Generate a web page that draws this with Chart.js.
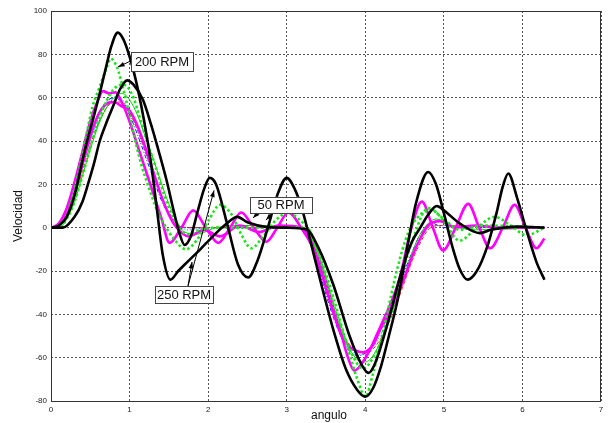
<!DOCTYPE html>
<html>
<head>
<meta charset="utf-8">
<script src="https://cdn.jsdelivr.net/npm/chart.js@4.4.1/dist/chart.umd.min.js"></script>
<style>
  body { margin: 0; background: #fff; }
  canvas { display: block; }
</style>
</head>
<body>
<canvas id="velChart" width="608" height="423"></canvas>
<script>
// tick labels
const xTicks = [0, 1, 2, 3, 4, 5, 6, 7];
const yTicks = [-80, -60, -40, -20, 0, 20, 40, 60, 80, 100];

// black, big oscillation (peak 68)
const b3X = [0, 0.15, 0.3, 0.4, 0.47, 0.55, 0.62, 0.7, 0.79, 0.88, 0.97, 1.05, 1.17, 1.27, 1.35, 1.47, 1.56, 1.63, 1.70, 1.78, 1.87, 1.95, 2.02, 2.1, 2.24, 2.38, 2.51, 2.63, 2.76, 2.88, 3.0, 3.1, 3.2, 3.3, 3.46, 3.6, 3.75, 3.9, 4.0, 4.1, 4.2, 4.3, 4.42, 4.55, 4.65, 4.8, 4.9, 5.0, 5.11, 5.2, 5.3, 5.42, 5.55, 5.67, 5.75, 5.82, 5.93, 6.05, 6.18, 6.28];
const b3Y = [0, 0, 5, 12, 20, 30, 40, 48, 56, 64, 68, 66, 59, 48, 38, 22, 8, -2, -8, -4, 8, 18, 23, 20, 2, -17, -23, -15, 0, 15, 23, 18, 8, -6, -29, -48, -65, -75, -78, -74, -64, -50, -32, -6, 12, 25.7, 20, 6.7, -9, -19, -24, -20, -9, 6.7, 19, 25, 14, -1, -16, -24];

// black, tall first peak (90)
const b1X = [0, 0.1, 0.2, 0.3, 0.4, 0.46, 0.55, 0.62, 0.7, 0.77, 0.85, 0.92, 1.0, 1.08, 1.15, 1.22, 1.28, 1.35, 1.42, 1.52, 1.62, 1.73, 1.9, 2.06, 2.24, 2.37, 2.5, 2.75, 3.0, 3.26, 3.4, 3.59, 3.8, 3.95, 4.04, 4.12, 4.27, 4.48, 4.6, 4.7, 4.8, 4.91, 5.0, 5.2, 5.46, 5.6, 5.75, 5.95, 6.28];
const b1Y = [0, 1, 5, 15, 31, 40, 52, 62, 74, 84, 90, 87, 79, 68, 56, 42, 28, 8, -12, -24, -20, -16, -10, -4, 2, 5, 2.5, 0.3, 0, -1, -9, -26, -50, -63, -67, -63, -46, -18, -6, 0, 6, 10, 8, 2, -2.5, -1, 0, 0.5, 0];

// green dotted, 200 RPM
const g1X = [0, 0.1, 0.2, 0.3, 0.4, 0.53, 0.62, 0.71, 0.76, 0.84, 0.92, 1.0, 1.08, 1.15, 1.25, 1.35, 1.45, 1.56, 1.72, 1.85, 2.0, 2.15, 2.3, 2.42, 2.55, 2.7, 2.85, 3.02, 3.15, 3.3, 3.45, 3.6, 3.75, 3.9, 4.0, 4.1, 4.27, 4.4, 4.55, 4.7, 4.85, 5.0, 5.2, 5.42, 5.65, 5.85, 6.05, 6.28];
const g1Y = [0, 1, 6, 18, 34, 56, 65, 74, 78, 74, 64, 52, 39, 29, 18, 8, 1, -5, -10, -6, 3, 10.5, 6, -3, -9.5, -4, 3, 7, 4, -2, -16, -33, -52, -70, -78, -67, -41, -20, -2, 6, 8, 3, -6, 0, 5, 1, -3.5, 0];

// green dotted, second
const g2X = [0, 0.1, 0.2, 0.3, 0.4, 0.5, 0.6, 0.7, 0.8, 0.9, 0.97, 1.05, 1.12, 1.22, 1.35, 1.45, 1.55, 1.65, 1.75, 1.9, 2.1, 3.25, 3.4, 3.6, 3.8, 3.97, 4.1, 4.25, 4.4, 4.6, 4.8, 5.0, 5.2, 5.5, 6.28];
const g2Y = [0, 0, 4, 12, 24, 37, 49, 58, 64, 66, 65, 60, 52, 40, 26, 14, 5, -1, -3, -1, 0, 0, -12, -36, -56, -65, -60, -48, -30, -6, 9, 4, -1, 1, 0];

// magenta, ringing
const m1X = [0, 0.1, 0.2, 0.3, 0.4, 0.5, 0.6, 0.66, 0.74, 0.82, 0.9, 1.0, 1.1, 1.2, 1.3, 1.4, 1.51, 1.66, 1.81, 1.97, 2.13, 2.28, 2.42, 2.58, 2.74, 2.88, 3.02, 3.2, 3.33, 3.46, 3.6, 3.7, 3.78, 3.86, 3.95, 4.05, 4.2, 4.3, 4.44, 4.57, 4.72, 4.86, 4.99, 5.15, 5.31, 5.45, 5.59, 5.75, 5.9, 6.04, 6.18, 6.28];
const m1Y = [0, 2, 9, 21, 35, 49, 59, 63, 62, 62.5, 58, 49, 38, 27, 16, 5, -7, 0, 8, 0, -7, 0, 7, 0, -6.5, 0, 7, -1, -9, -20, -38, -50, -60, -66, -63, -57, -45, -37, -23, -2.5, 12, 0, -10.5, 0, 11, 0, -9.5, 0, 10.5, 0, -9.5, -5];

// magenta, calm
const m2X = [0, 0.1, 0.2, 0.3, 0.4, 0.5, 0.6, 0.7, 0.8, 0.9, 1.0, 1.1, 1.2, 1.3, 1.4, 1.5, 1.6, 1.75, 1.95, 2.15, 2.4, 2.65, 2.9, 3.2, 3.3, 3.4, 3.5, 3.6, 3.7, 3.8, 3.9, 3.97, 4.1, 4.19, 4.3, 4.4, 4.5, 4.6, 4.7, 4.8, 4.95, 5.15, 5.4, 5.7, 6.28];
const m2Y = [0, 1, 6, 16, 29, 42, 52, 57, 58, 56, 54, 47, 37, 26, 15, 6, 0, -4, -1, -4, 1, -2, 1, 0, -5, -16, -28, -40, -50, -55, -57, -57.5, -54, -47, -40, -32, -23, -13, -5, 1, 3, 0, 1, 0, 0];

// thin low speed curves
const cyX = [0, 0.1, 0.2, 0.3, 0.4, 0.5, 0.6, 0.7, 0.8, 0.9, 1.0, 1.1, 1.2, 1.3, 1.4, 1.5, 1.6, 1.75, 2.0, 3.2, 3.3, 3.4, 3.5, 3.6, 3.7, 3.8, 3.9, 4.0, 4.1, 4.2, 4.3, 4.4, 4.5, 4.6, 4.7, 4.8, 4.95, 6.28];
const cyY = [0, 1, 6, 16, 28, 40, 50, 57, 60, 59, 54, 45, 35, 25, 15, 7, 2, -1, 0, 0, -5, -17, -29, -40, -49, -55, -58.5, -58.5, -55, -49, -42, -33, -23, -13, -5, 0, 1, 0];
const blX = [0, 0.1, 0.2, 0.3, 0.4, 0.5, 0.6, 0.7, 0.8, 0.9, 1.0, 1.1, 1.2, 1.3, 1.4, 1.5, 1.6, 1.8, 3.15, 3.3, 3.4, 3.5, 3.6, 3.7, 3.8, 3.9, 4.0, 4.1, 4.2, 4.3, 4.4, 4.5, 4.6, 4.7, 4.85, 5.0, 6.28];
const blY = [0, 2, 8, 19, 31, 43, 52, 58, 60, 58, 52, 43, 33, 23, 13, 6, 1, 0, 0, -7, -18, -31, -42, -51, -57, -59, -58, -54, -47, -39, -30, -20, -11, -3, 2, 0, 0];
const rdX = [0, 0.1, 0.2, 0.3, 0.4, 0.5, 0.6, 0.7, 0.8, 0.9, 1.0, 1.1, 1.2, 1.3, 1.4, 1.5, 1.6, 1.75, 3.2, 3.3, 3.4, 3.5, 3.6, 3.7, 3.8, 3.9, 4.0, 4.1, 4.2, 4.3, 4.4, 4.5, 4.6, 4.7, 4.8, 4.95, 6.28];
const rdY = [0, 1, 5, 14, 26, 38, 48, 55, 58, 58, 53, 45, 35, 25, 15, 7, 2, 0, 0, -4, -14, -26, -38, -48, -54, -57, -58, -56, -51, -44, -35, -25, -15, -7, -1, 1, 0];
const tgX = [0, 0.1, 0.2, 0.3, 0.4, 0.5, 0.6, 0.7, 0.8, 0.9, 1.0, 1.1, 1.2, 1.3, 1.4, 1.5, 1.6, 1.7, 1.85, 2.1, 2.4, 3.2, 3.3, 3.4, 3.5, 3.6, 3.7, 3.8, 3.9, 4.0, 4.1, 4.2, 4.3, 4.4, 4.5, 4.6, 4.7, 4.8, 4.9, 5.1, 5.4, 6.28];
const tgY = [0, 0, 4, 12, 24, 36, 47, 55, 60, 62, 59, 52, 42, 32, 21, 11, 3, -2, -3, 0, 1, 0, -3, -12, -24, -37, -48, -56, -61, -62, -59, -52, -43, -33, -22, -11, -3, 2, 4, 1, -1, 0];

// text boxes with arrows, in data units
const notes = [
  { text: '200 RPM', box: [1.018, 81.1, 1.807, 72.3], arrows: [[1.095, 78.3, 0.853, 74.2]] },
  { text: '50 RPM', box: [2.533, 14.2, 3.322, 6.8], arrows: [[2.635, 6.8, 2.571, 4.5], [2.825, 6.8, 2.736, 3.5]] },
  { text: '250 RPM', box: [1.324, -26.9, 2.062, -34.8], arrows: [[1.744, -26.9, 1.795, -15.8], [1.744, -26.9, 2.075, 17.2]] }
];

const FONT = '"Liberation Sans", Arial, sans-serif';

function pts(xs, ys) {
  return xs.map((v, i) => ({ x: v, y: ys[i] }));
}

function arrow(ctx, x0, y0, x1, y1) {
  const ang = Math.atan2(y1 - y0, x1 - x0);
  ctx.beginPath();
  ctx.moveTo(x0, y0);
  ctx.lineTo(x1, y1);
  ctx.stroke();
  ctx.beginPath();
  ctx.moveTo(x1, y1);
  ctx.lineTo(x1 - 7 * Math.cos(ang - 0.35), y1 - 7 * Math.sin(ang - 0.35));
  ctx.lineTo(x1 - 7 * Math.cos(ang + 0.35), y1 - 7 * Math.sin(ang + 0.35));
  ctx.closePath();
  ctx.fill();
}

const extras = {
  id: 'extras',
  afterDraw(chart) {
    const { ctx, chartArea: a, scales: { x, y } } = chart;
    ctx.save();
    ctx.setLineDash([]);
    ctx.strokeStyle = '#333';
    ctx.lineWidth = 1;
    ctx.strokeRect(a.left + 0.5, a.top + 0.5, a.right - a.left - 1, a.bottom - a.top);

    notes.forEach(n => {
      ctx.strokeStyle = '#000';
      ctx.fillStyle = '#000';
      ctx.lineWidth = 1;
      n.arrows.forEach(r => {
        arrow(ctx, x.getPixelForValue(r[0]), y.getPixelForValue(r[1]),
          x.getPixelForValue(r[2]), y.getPixelForValue(r[3]));
      });
      const l = x.getPixelForValue(n.box[0]), t = y.getPixelForValue(n.box[1]);
      const r = x.getPixelForValue(n.box[2]), b = y.getPixelForValue(n.box[3]);
      ctx.fillStyle = '#fff';
      ctx.fillRect(l, t, r - l, b - t);
      ctx.strokeStyle = '#444';
      ctx.strokeRect(Math.round(l) + 0.5, Math.round(t) + 0.5, Math.round(r - l), Math.round(b - t));
      ctx.fillStyle = '#111';
      ctx.font = '13px ' + FONT;
      ctx.textAlign = 'center';
      ctx.textBaseline = 'middle';
      ctx.fillText(n.text, (l + r) / 2, (t + b) / 2 + 1);
    });

    ctx.fillStyle = '#111';
    ctx.font = '12px ' + FONT;
    ctx.textAlign = 'center';
    ctx.textBaseline = 'middle';
    ctx.fillText('angulo', (a.left + a.right) / 2 + 3, 416);
    ctx.translate(19, 216);
    ctx.rotate(-Math.PI / 2);
    ctx.fillText('Velocidad', 0, 0);
    ctx.restore();
  }
};

const base = { pointRadius: 0, fill: false, cubicInterpolationMode: 'monotone' };

new Chart(document.getElementById('velChart').getContext('2d'), {
  type: 'line',
  plugins: [extras],
  data: {
    datasets: [
      { ...base, data: pts(b3X, b3Y), borderColor: '#000', borderWidth: 2.6 },
      { ...base, data: pts(b1X, b1Y), borderColor: '#000', borderWidth: 2.6 },
      { ...base, data: pts(g1X, g1Y), borderColor: '#19e619', borderWidth: 2.6, borderDash: [2.5, 2.5] },
      { ...base, data: pts(g2X, g2Y), borderColor: '#19e619', borderWidth: 2.6, borderDash: [2.5, 2.5] },
      { ...base, data: pts(m1X, m1Y), borderColor: '#ff00ff', borderWidth: 2.6 },
      { ...base, data: pts(m2X, m2Y), borderColor: '#ff00ff', borderWidth: 2.6 },
      { ...base, data: pts(tgX, tgY), borderColor: '#00d000', borderWidth: 1 },
      { ...base, data: pts(rdX, rdY), borderColor: '#ff2020', borderWidth: 1, borderDash: [4, 2] },
      { ...base, data: pts(blX, blY), borderColor: '#1010ff', borderWidth: 1, borderDash: [4, 2, 1, 2] },
      { ...base, data: pts(cyX, cyY), borderColor: '#30c8f8', borderWidth: 1.2, borderDash: [1.5, 1.5] }
    ]
  },
  options: {
    responsive: false,
    animation: false,
    layout: { padding: { left: 0, right: 7, top: 11, bottom: 0 } },
    plugins: { legend: { display: false }, tooltip: { enabled: false } },
    scales: {
      x: {
        type: 'linear', min: 0, max: 7,
        afterBuildTicks: s => { s.ticks = xTicks.map(v => ({ value: v })); },
        afterFit: s => { s.height = 22; },
        ticks: { font: { size: 8, family: FONT }, color: '#222', padding: 4, maxRotation: 0 },
        grid: { color: '#555', lineWidth: 1, drawTicks: false },
        border: { display: false, dash: [2, 2] }
      },
      y: {
        type: 'linear', min: -80, max: 100,
        afterBuildTicks: s => { s.ticks = yTicks.map(v => ({ value: v })); },
        afterFit: s => { s.width = 51; },
        ticks: { font: { size: 8, family: FONT }, color: '#222', padding: 4 },
        grid: { color: '#555', lineWidth: 1, drawTicks: false },
        border: { display: false, dash: [2, 2] }
      }
    }
  }
});
</script>
</body>
</html>
